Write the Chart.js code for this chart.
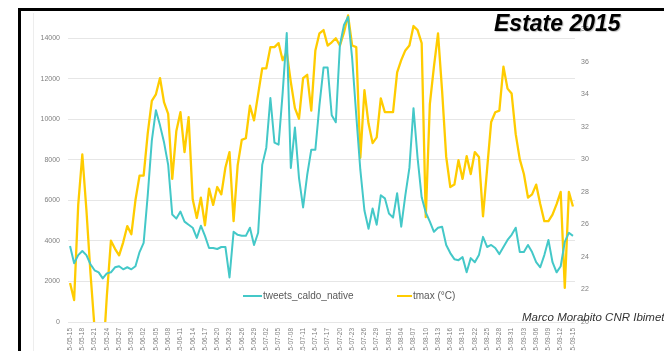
<!DOCTYPE html>
<html><head><meta charset="utf-8">
<script src="https://cdn.jsdelivr.net/npm/chart.js@4.4.1/dist/chart.umd.min.js"></script>
<style>
html,body{margin:0;padding:0;background:#fff;overflow:hidden;}
#wrap{position:relative;width:664px;height:351px;overflow:hidden;background:#fff;}
#frame{position:absolute;left:18px;top:8px;width:700px;height:400px;border:3px solid #000;box-sizing:border-box;}
#inner{position:absolute;left:33px;top:13px;width:700px;height:400px;border-left:1px solid #ededed;}
canvas{position:absolute;left:0;top:0;}
#title{position:absolute;left:494px;top:12px;font:italic bold 23px "Liberation Sans",Arial,sans-serif;line-height:23px;color:#000;white-space:nowrap;text-shadow:1px 1px 1px rgba(0,0,0,0.25);}
#credit{position:absolute;left:522px;top:311px;font:italic 11.5px "Liberation Sans",Arial,sans-serif;line-height:12px;color:#333;white-space:nowrap;}
.leg{position:absolute;top:291px;font:10px "Liberation Sans",Arial,sans-serif;line-height:10px;color:#595959;white-space:nowrap;}
.sw{position:absolute;height:2px;top:295px;}
</style></head>
<body>
<div id="wrap">
<div id="frame"></div>
<div id="inner"></div>
<canvas id="c" width="664" height="351"></canvas>
<div id="legend"></div>
<div id="title">Estate 2015</div>
<div id="credit">Marco Morabito CNR Ibimet</div>
</div>
<script>
const dates = [
"2015-05-15","2015-05-16","2015-05-17","2015-05-18","2015-05-19","2015-05-20","2015-05-21","2015-05-22","2015-05-23","2015-05-24","2015-05-25","2015-05-26","2015-05-27","2015-05-28","2015-05-29","2015-05-30","2015-05-31",
"2015-06-01","2015-06-02","2015-06-03","2015-06-04","2015-06-05","2015-06-06","2015-06-07","2015-06-08","2015-06-09","2015-06-10","2015-06-11","2015-06-12","2015-06-13","2015-06-14","2015-06-15","2015-06-16","2015-06-17","2015-06-18","2015-06-19","2015-06-20","2015-06-21","2015-06-22","2015-06-23","2015-06-24","2015-06-25","2015-06-26","2015-06-27","2015-06-28","2015-06-29","2015-06-30",
"2015-07-01","2015-07-02","2015-07-03","2015-07-04","2015-07-05","2015-07-06","2015-07-07","2015-07-08","2015-07-09","2015-07-10","2015-07-11","2015-07-12","2015-07-13","2015-07-14","2015-07-15","2015-07-16","2015-07-17","2015-07-18","2015-07-19","2015-07-20","2015-07-21","2015-07-22","2015-07-23","2015-07-24","2015-07-25","2015-07-26","2015-07-27","2015-07-28","2015-07-29","2015-07-30","2015-07-31",
"2015-08-01","2015-08-02","2015-08-03","2015-08-04","2015-08-05","2015-08-06","2015-08-07","2015-08-08","2015-08-09","2015-08-10","2015-08-11","2015-08-12","2015-08-13","2015-08-14","2015-08-15","2015-08-16","2015-08-17","2015-08-18","2015-08-19","2015-08-20","2015-08-21","2015-08-22","2015-08-23","2015-08-24","2015-08-25","2015-08-26","2015-08-27","2015-08-28","2015-08-29","2015-08-30","2015-08-31",
"2015-09-01","2015-09-02","2015-09-03","2015-09-04","2015-09-05","2015-09-06","2015-09-07","2015-09-08","2015-09-09","2015-09-10","2015-09-11","2015-09-12","2015-09-13","2015-09-14","2015-09-15"
];
const tweetsCaldoNative = [
3750,2900,3300,3500,3300,2850,2550,2450,2150,2400,2450,2700,2750,2600,2700,2600,2750,3450,3900,6250,
8950,10450,9700,8850,7750,5300,5100,5450,4950,4800,4650,4150,4750,4250,3650,3650,3600,3700,3700,2200,
4450,4300,4250,4250,4650,3800,4400,7750,8600,11050,8850,8750,11300,14250,7600,9600,7100,5650,7250,8500,
8500,10700,12550,12550,10200,9850,13650,14650,15050,13000,10200,7500,5500,4600,5600,4800,6250,6100,5350,5150,
6350,4700,6250,7600,10550,8100,6150,5400,4950,4450,4650,4700,3800,3400,3100,3050,3200,2450,3150,2950,
3300,4200,3700,3800,3650,3350,3700,4050,4300,4650,3450,3450,3800,3450,2950,2700,3300,4050,2950,2450,
2750,3950,4400,4250
];
const tmax = [
22.4,21.35,27.2,30.3,26.9,23.0,19.6,17.5,17.5,21.6,25.0,24.5,24.1,24.9,25.9,25.4,27.5,29.0,29.0,31.6,
33.6,34.0,35.0,33.5,32.8,28.8,31.75,32.9,30.45,32.6,27.55,26.4,27.65,25.95,28.2,27.2,28.3,27.85,29.5,30.45,
26.2,29.65,31.2,31.3,33.3,32.4,34.0,35.6,35.6,36.9,36.9,37.15,36.1,36.6,34.75,33.15,32.5,35.0,35.2,33.0,
36.7,37.75,37.95,37.0,37.2,37.45,37.0,37.8,38.85,37.0,36.9,30.1,34.25,32.2,31.0,31.35,33.75,32.9,32.9,32.9,
35.35,36.1,36.7,37.0,38.2,37.95,37.15,26.45,33.4,35.7,37.75,34.2,30.15,28.3,28.45,29.95,28.8,30.2,29.1,30.45,
30.15,26.5,29.4,32.3,32.9,33.0,35.7,34.35,34.05,31.55,30.0,29.1,27.65,27.85,28.45,27.25,26.2,26.2,26.6,27.25,
28.0,22.1,28.0,27.1
];
const leftTicks = [0,2000,4000,6000,8000,10000,12000,14000];
const rightTicks = [20,22,24,26,28,30,32,34,36,38];
const seriesNames = ["tweets_caldo_native","tmax (°C)"];
const seriesColors = ["#44C8C8","#FFCC00"];

const tickFont = {family:"'Liberation Sans', Arial, sans-serif", size:7};
const chart = new Chart(document.getElementById('c'), {
  type:'line',
  data:{
    labels:dates,
    datasets:[
      {label:seriesNames[0], data:tweetsCaldoNative, borderColor:seriesColors[0], backgroundColor:seriesColors[0], borderWidth:2, pointRadius:0, tension:0, yAxisID:'y', borderJoinStyle:'round'},
      {label:seriesNames[1], data:tmax, borderColor:seriesColors[1], backgroundColor:seriesColors[1], borderWidth:2.3, pointRadius:0, tension:0, yAxisID:'y1', borderJoinStyle:'round'}
    ]
  },
  options:{
    responsive:false, animation:false, devicePixelRatio:1,
    layout:{padding:{top:12,left:0,right:0,bottom:0}},
    plugins:{legend:{display:false}, tooltip:{enabled:false}},
    scales:{
      x:{
        offset:true,
        grid:{display:false, drawTicks:false, tickLength:0}, border:{display:false},
        ticks:{autoSkip:false, maxRotation:90, minRotation:90, padding:6, font:{family:tickFont.family,size:6.5}, color:'#808080',
          callback:function(v,i){ return i%3===0 ? this.getLabelForValue(v) : null; }},
        afterFit(s){ s.height = 29; }
      },
      y:{
        position:'left', min:0, max:15282,
        grid:{color:'#e6e6e6', drawTicks:false, lineWidth:1}, border:{display:false},
        ticks:{padding:8, font:tickFont, color:'#808080', callback:v=>String(v)},
        afterBuildTicks(s){ s.ticks = leftTicks.map(v=>({value:v})); },
        afterFit(s){ s.width = 68; }
      },
      y1:{
        position:'right', min:20, max:39.05,
        grid:{display:false, drawTicks:false}, border:{display:false},
        ticks:{padding:6, font:tickFont, color:'#808080', callback:v=>String(v)},
        afterBuildTicks(s){ s.ticks = rightTicks.map(v=>({value:v})); },
        afterFit(s){ s.width = 89; }
      }
    }
  }
});

// legend built from the chart's datasets
const legPos = [{sw:243, sww:19, tx:263},{sw:397, sww:15, tx:413}];
const legend = document.getElementById('legend');
chart.data.datasets.forEach((ds,i)=>{
  const s = document.createElement('div'); s.className='sw';
  s.style.left = legPos[i].sw+'px'; s.style.width = legPos[i].sww+'px'; s.style.background = ds.borderColor;
  const t = document.createElement('div'); t.className='leg';
  t.style.left = legPos[i].tx+'px'; t.textContent = ds.label;
  legend.appendChild(s); legend.appendChild(t);
});
</script>
</body></html>
